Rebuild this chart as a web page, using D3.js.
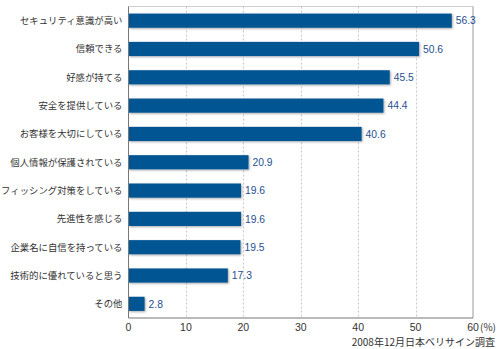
<!DOCTYPE html>
<html><head><meta charset="utf-8">
<script src="https://cdn.jsdelivr.net/npm/d3@7"></script>
<style>
body{margin:0;background:#fff;}
svg{display:block;}
</style></head>
<body>
<svg id="chart" width="499" height="349"></svg>
<script>
const categories = ["セキュリティ意識が高い","信頼できる","好感が持てる","安全を提供している","お客様を大切にしている","個人情報が保護されている","フィッシング対策をしている","先進性を感じる","企業名に自信を持っている","技術的に優れていると思う","その他"];
const values = [56.3,50.6,45.5,44.4,40.6,20.9,19.6,19.6,19.5,17.3,2.8];
const tickValues = [0,10,20,30,40,50,60];
const unitLabel = "(%)";
const sourceText = "2008年12月日本ベリサイン調査";

const svg = d3.select("#chart");
const m = {left:128.5, right:473, top:6.5, bottom:318};
const x = d3.scaleLinear().domain([0,60]).range([m.left, m.right]);
const y = d3.scaleBand().domain(categories).range([m.top, m.bottom]).paddingInner(0.5).paddingOuter(0.25);

const defs = svg.append("defs");
const f = defs.append("filter").attr("id","sh").attr("x","-5%").attr("y","-20%").attr("width","120%").attr("height","160%");
f.append("feDropShadow").attr("dx",1).attr("dy",1).attr("stdDeviation",0.8).attr("flood-color","#000").attr("flood-opacity",0.35);

// gridlines
svg.append("g").selectAll("line").data(tickValues.filter(d=>d>0 && d<60)).join("line")
  .attr("x1",d=>Math.round(x(d))+0.5).attr("x2",d=>Math.round(x(d))+0.5)
  .attr("y1",m.top).attr("y2",m.bottom)
  .attr("stroke","#c8c8c8").attr("stroke-width",1).attr("stroke-dasharray","2,2");

// frame
svg.append("line").attr("x1",m.left).attr("x2",m.right).attr("y1",m.top).attr("y2",m.top).attr("stroke","#cfcfcf");
svg.append("line").attr("x1",m.right).attr("x2",m.right).attr("y1",m.top).attr("y2",m.bottom).attr("stroke","#999");
svg.append("line").attr("x1",m.left).attr("x2",m.right).attr("y1",m.bottom).attr("y2",m.bottom).attr("stroke","#777");

// bars
svg.append("g").selectAll("rect").data(values).join("rect")
  .attr("x",x(0)).attr("y",(d,i)=>y(categories[i]))
  .attr("width",d=>x(d)-x(0)).attr("height",y.bandwidth())
  .attr("fill","#005592").attr("filter","url(#sh)");

svg.append("line").attr("x1",m.left).attr("x2",m.left).attr("y1",m.top).attr("y2",m.bottom).attr("stroke","#777");

// value labels
svg.append("g").selectAll("text").data(values).join("text")
  .attr("x",d=>x(d)+4).attr("y",(d,i)=>y(categories[i])+y.bandwidth()/2)
  .attr("dy","0.36em").attr("font-family","Liberation Sans, Arial, sans-serif").attr("font-size",10.3)
  .attr("fill","#1f4f8f").text(d=>d.toFixed(1));

// category labels
svg.append("g").selectAll("text").data(categories).join("text")
  .attr("x",m.left-6).attr("y",d=>y(d)+y.bandwidth()/2).attr("dy","0.36em")
  .attr("text-anchor","end").attr("font-family","Noto Sans CJK JP, sans-serif").attr("font-size",9.4)
  .attr("fill","#333").text(d=>d);

// x axis tick labels
svg.append("g").selectAll("text").data(tickValues).join("text")
  .attr("x",d=>x(d)).attr("y",330.5).attr("text-anchor","middle")
  .attr("font-family","Liberation Sans, Arial, sans-serif").attr("font-size",10.5).attr("fill","#333")
  .text(d=>d);
svg.append("text").attr("x",x(60)+7).attr("y",330.5)
  .attr("font-family","Noto Sans CJK JP, sans-serif").attr("font-size",10).attr("fill","#333").text(unitLabel);

svg.append("text").attr("x",495).attr("y",345.5).attr("text-anchor","end")
  .attr("font-family","Noto Sans CJK JP, sans-serif").attr("font-size",10).attr("fill","#333").text(sourceText);
</script>
</body></html>
